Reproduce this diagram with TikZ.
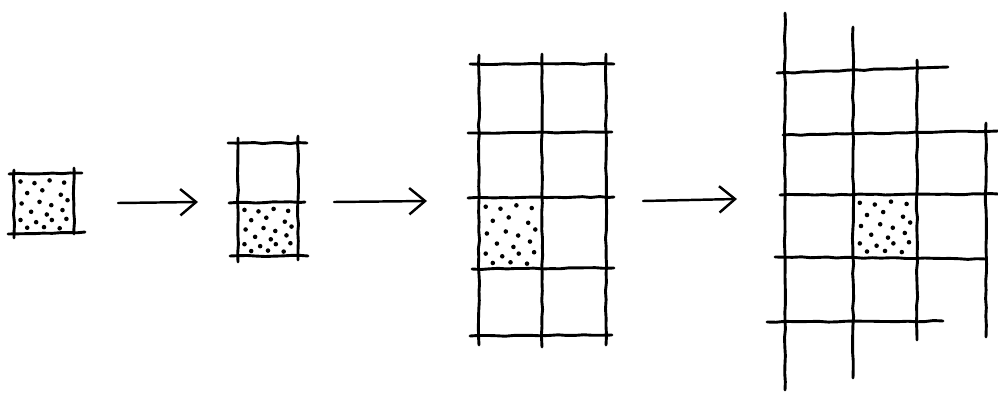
\documentclass[tikz,border=0pt]{standalone}
\usetikzlibrary{arrows.meta,decorations.pathmorphing}

% stipple dots inside one cell: x, y (top left), width, height
\newcommand{\stipplecell}[4]{%
  \foreach \fx/\fy in {0.08/0.10,0.33/0.13,0.60/0.08,0.86/0.12,0.20/0.31,0.47/0.26,0.80/0.34,
    0.10/0.50,0.42/0.47,0.63/0.53,0.92/0.44,0.27/0.65,0.55/0.70,0.83/0.62,0.08/0.80,
    0.36/0.84,0.64/0.80,0.90/0.78,0.20/0.94,0.50/0.93,0.78/0.95}
    \fill ({#1+\fx*(#3)},{#2+\fy*(#4)}) circle (1.3pt);}

\begin{document}
\begin{tikzpicture}[x=0.02cm,y=-0.02cm,
  pen/.style={line width=1.65pt,line cap=round,line join=round,decorate,
    decoration={random steps,segment length=5pt,amplitude=0.35pt}},
  flowarrow/.style={line width=1.4pt,line cap=round,-{Straight Barb[length=9pt,width=15pt,line width=1.4pt]}}]
  \useasboundingbox (0,0) rectangle (998,396);
  % Stage 1: one cell
  \draw[pen] (14,170) -- (14,238);
  \draw[pen] (74,168) -- (74,234);
  \draw[pen] (9,174) -- (82,173);
  \draw[pen] (8,234) -- (85,232);
  \stipplecell{16}{176}{56}{55}
  % Stage 2: two cells
  \draw[pen] (238,138) -- (238,262);
  \draw[pen] (298,136) -- (298,260);
  \draw[pen] (228,143) -- (307,143);
  \draw[pen] (229,203) -- (305,202);
  \draw[pen] (230,256) -- (308,256);
  \stipplecell{240}{205}{56}{49}
  % Stage 3: two columns, four rows
  \draw[pen] (479,55) -- (479,345);
  \draw[pen] (542,54) -- (542,347);
  \draw[pen] (606,54) -- (606,345);
  \draw[pen] (470,64) -- (614,64);
  \draw[pen] (468,133) -- (612,132);
  \draw[pen] (468,198) -- (614,197);
  \draw[pen] (472,269) -- (614,268);
  \draw[pen] (470,336) -- (612,335);
  \stipplecell{481}{200}{59}{67}
  % Stage 4: open grid
  \draw[pen] (785,13) -- (785,390);
  \draw[pen] (853,27) -- (853,378);
  \draw[pen] (917,60) -- (917,340);
  \draw[pen] (986,123) -- (986,337);
  \draw[pen] (777,73) -- (948,67);
  \draw[pen] (783,135) -- (998,131);
  \draw[pen] (780,195) -- (998,194);
  \draw[pen] (775,257) -- (986,259);
  \draw[pen] (767,322) -- (943,321);
  \stipplecell{855}{197}{60}{58}
  % Arrows between stages
  \coordinate (a1s) at (118,203);
  \coordinate (a1e) at (198,202);
  \coordinate (a2s) at (334,202);
  \coordinate (a2e) at (427,201);
  \coordinate (a3s) at (643,201);
  \coordinate (a3e) at (737,199);
  \draw[flowarrow] (a1s) -- (a1e);
  \draw[flowarrow] (a2s) -- (a2e);
  \draw[flowarrow] (a3s) -- (a3e);
\end{tikzpicture}
\end{document}
